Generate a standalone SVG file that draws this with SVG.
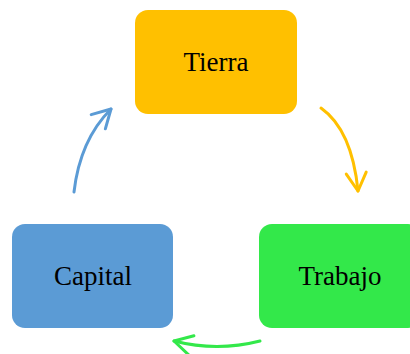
<svg xmlns="http://www.w3.org/2000/svg" width="410" height="354" viewBox="0 0 410 354">
  <style>
    .lbl { font-family: "Liberation Serif", "Times New Roman", serif; font-size: 27px; fill: #000; text-anchor: middle; }
    .conn { fill: none; stroke-width: 3; stroke-linecap: round; }
  </style>
  <defs>
    <marker id="mY" markerUnits="userSpaceOnUse" markerWidth="40" markerHeight="40" refX="0" refY="0" orient="auto" overflow="visible">
      <path d="M-18,-10 L0,0 L-18,10" fill="none" stroke="#FFC000" stroke-width="3" stroke-linecap="round" stroke-linejoin="round"/>
    </marker>
    <marker id="mB" markerUnits="userSpaceOnUse" markerWidth="40" markerHeight="40" refX="0" refY="0" orient="auto" overflow="visible">
      <path d="M-18,-10 L0,0 L-18,10" fill="none" stroke="#5B9BD5" stroke-width="3" stroke-linecap="round" stroke-linejoin="round"/>
    </marker>
    <marker id="mG" markerUnits="userSpaceOnUse" markerWidth="40" markerHeight="40" refX="0" refY="0" orient="auto" overflow="visible">
      <path d="M-18,-10 L0,0 L-18,10" fill="none" stroke="#33E84A" stroke-width="3" stroke-linecap="round" stroke-linejoin="round"/>
    </marker>
  </defs>
  <rect width="410" height="354" fill="#FFFFFF"/>
  <g id="tierra">
    <rect x="135" y="10" width="162" height="104" rx="13" fill="#FFC000"/>
    <text class="lbl" x="216" y="71">Tierra</text>
  </g>
  <g id="capital">
    <rect x="12" y="224" width="161" height="104" rx="13" fill="#5B9BD5"/>
    <text class="lbl" x="93" y="285">Capital</text>
  </g>
  <g id="trabajo">
    <rect x="259" y="224" width="162" height="104" rx="13" fill="#33E84A"/>
    <text class="lbl" x="340" y="285">Trabajo</text>
  </g>
  <g id="connectors">
    <path class="conn" d="M321,108 Q352,130 358,191" stroke="#FFC000" marker-end="url(#mY)"/>
    <path class="conn" d="M260,341 Q217,352 174,341" stroke="#33E84A" marker-end="url(#mG)"/>
    <path class="conn" d="M74,192 Q80,140 111,109" stroke="#5B9BD5" marker-end="url(#mB)"/>
  </g>
</svg>
